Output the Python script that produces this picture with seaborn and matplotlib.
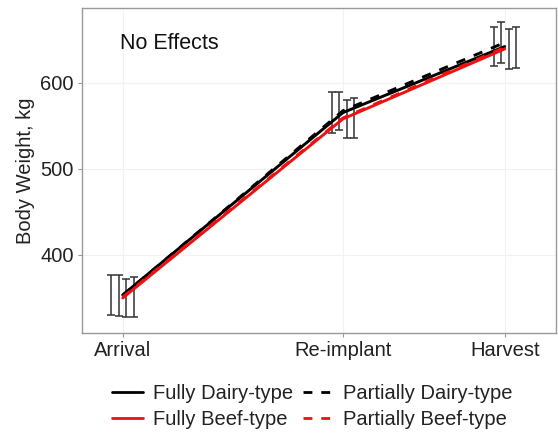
import numpy as np
import pandas as pd
import matplotlib
matplotlib.use("Agg")
import matplotlib.pyplot as plt
import seaborn as sns
from matplotlib.lines import Line2D

stages = ["Arrival", "Re-implant", "Harvest"]
days = [0, 98, 170]
groups = ["Fully Dairy-type", "Partially Dairy-type", "Fully Beef-type", "Partially Beef-type"]
mean_fully_dairy = [353.5, 565.4, 642.2]
mean_partially_dairy = [353.0, 567.6, 646.8]
mean_fully_beef = [350.0, 558.1, 639.4]
mean_partially_beef = [351.0, 559.1, 641.3]
err_fully_dairy = [23.5, 23.8, 23.0]
err_partially_dairy = [23.5, 22.3, 23.8]
err_fully_beef = [22.5, 22.0, 23.4]
err_partially_beef = [23.0, 23.0, 24.0]

means = [mean_fully_dairy, mean_partially_dairy, mean_fully_beef, mean_partially_beef]
errs = [err_fully_dairy, err_partially_dairy, err_fully_beef, err_partially_beef]

rows = []
for g, m, e in zip(groups, means, errs):
    for d, s, v, ee in zip(days, stages, m, e):
        rows.append({"group": g, "day": d, "stage": s, "bw": v, "err": ee})
df = pd.DataFrame(rows)

sns.set_theme(style="white")
plt.rcParams["font.family"] = ["Liberation Sans", "DejaVu Sans"]

fig = plt.figure(figsize=(5.58, 4.33), dpi=100)
ax = fig.add_axes([0.147, 0.231, 0.849, 0.751])

# faint grid
for d in days:
    ax.axvline(d, color="#f2f2f2", lw=0.8, zorder=0)
for yv in [400, 500, 600]:
    ax.axhline(yv, color="#f2f2f2", lw=0.8, zorder=0)

# error bars (dodged)
offsets = [-5.0, -1.67, 1.67, 5.0]
for g, off in zip(groups, offsets):
    sub = df[df.group == g]
    ax.errorbar(sub.day + off, sub.bw, yerr=sub.err, fmt="none", ecolor="#333333",
                elinewidth=1.1, capsize=3.0, capthick=1.1, zorder=2)

palette = {"Fully Dairy-type": "black", "Partially Dairy-type": "black",
           "Fully Beef-type": "#ee1111", "Partially Beef-type": "#ee1111"}
dash_map = {"Fully Dairy-type": "", "Partially Dairy-type": (3.2, 3.2),
            "Fully Beef-type": "", "Partially Beef-type": (3.2, 3.2)}
sns.lineplot(data=df, x="day", y="bw", hue="group", style="group",
             hue_order=groups, style_order=groups,
             palette=palette, dashes=dash_map, linewidth=2.1,
             legend=False, ax=ax, zorder=3, estimator=None, sort=True)

ax.set_xlim(-18.1, 192.7)
ax.set_ylim(309.3, 687.2)
ax.set_xticks(days)
ax.set_xticklabels(stages)
ax.set_yticks([400, 500, 600])
ax.set_xlabel("")
ax.set_ylabel("Body Weight, kg", fontsize=14.5, color="#222222", labelpad=4)
ax.tick_params(axis="both", labelsize=14.5, colors="#222222", length=3, width=0.8,
               direction="out", bottom=True, left=True, pad=3)
ax.tick_params(axis="both", color="#999999")
for sp in ax.spines.values():
    sp.set_color("#999999")
    sp.set_linewidth(1.0)

ax.text(0.08, 0.889, "No Effects", transform=ax.transAxes, fontsize=15.5,
        color="#111111", va="center", ha="left")

handles = [
    Line2D([], [], color="black", lw=2.0, ls="-"),
    Line2D([], [], color="#ee1111", lw=2.0, ls="-"),
    Line2D([], [], color="black", lw=2.0, ls=(0, (3.2, 3.2))),
    Line2D([], [], color="#ee1111", lw=2.0, ls=(0, (3.2, 3.2))),
]
labels = ["Fully Dairy-type", "Fully Beef-type", "Partially Dairy-type", "Partially Beef-type"]
fig.legend(handles, labels, ncol=2, loc="center", bbox_to_anchor=(0.56, 0.062),
           frameon=False, fontsize=14.5, handlelength=1.5, handletextpad=0.5,
           columnspacing=0.5, labelspacing=0.35, labelcolor="#222222")

fig.savefig("out.png", dpi=100)
